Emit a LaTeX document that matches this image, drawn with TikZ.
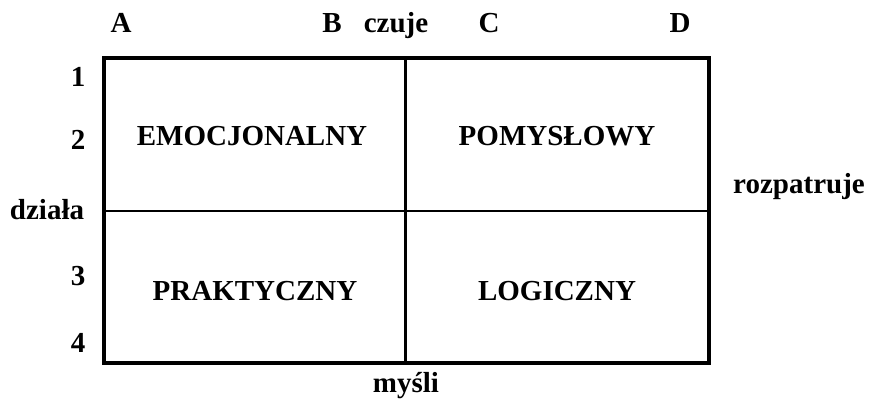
\documentclass[tikz,border=0pt]{standalone}
\usepackage{fontspec}
\setmainfont{Liberation Serif}
\begin{document}
\begin{tikzpicture}[x=1pt,y=-1pt,
  lbl/.style={anchor=base,inner sep=0pt,font=\fontsize{29}{32}\selectfont\bfseries},
  frame/.style={line width=4pt},
  divider/.style={line width=2.6pt}]
\useasboundingbox (0,0) rectangle (869,412);
% quadrant grid
\coordinate (tl) at (104,58);
\coordinate (br) at (709,363);
\coordinate (tm) at (405.5,58);
\coordinate (bm) at (405.5,363);
\coordinate (ml) at (104,211);
\coordinate (mr) at (709,211);
\draw[divider] (tm) -- (bm);
\draw[divider] (ml) -- (mr);
\draw[frame] (tl) rectangle (br);
% column letters
\node[lbl] (A) at (121,33) {A};
\node[lbl] (B) at (332,33) {B};
\node[lbl] (czuje) at (396,33) {czuje};
\node[lbl] (C) at (489,33) {C};
\node[lbl] (D) at (680,33) {D};
% row numbers
\node[lbl] (r1) at (78,86) {1};
\node[lbl] (r2) at (78,149) {2};
\node[lbl] (dziala) at (47,219) {działa};
\node[lbl] (r3) at (78,285) {3};
\node[lbl] (r4) at (78,352) {4};
% quadrants
\node[lbl] (emo) at (252,145) {EMOCJONALNY};
\node[lbl] (pom) at (557,145) {POMYSŁOWY};
\node[lbl] (pra) at (255,300) {PRAKTYCZNY};
\node[lbl] (log) at (557,300) {LOGICZNY};
% axis words
\node[lbl] (rozp) at (799,193) {rozpatruje};
\node[lbl] (mysli) at (406,392) {myśli};
\end{tikzpicture}
\end{document}
